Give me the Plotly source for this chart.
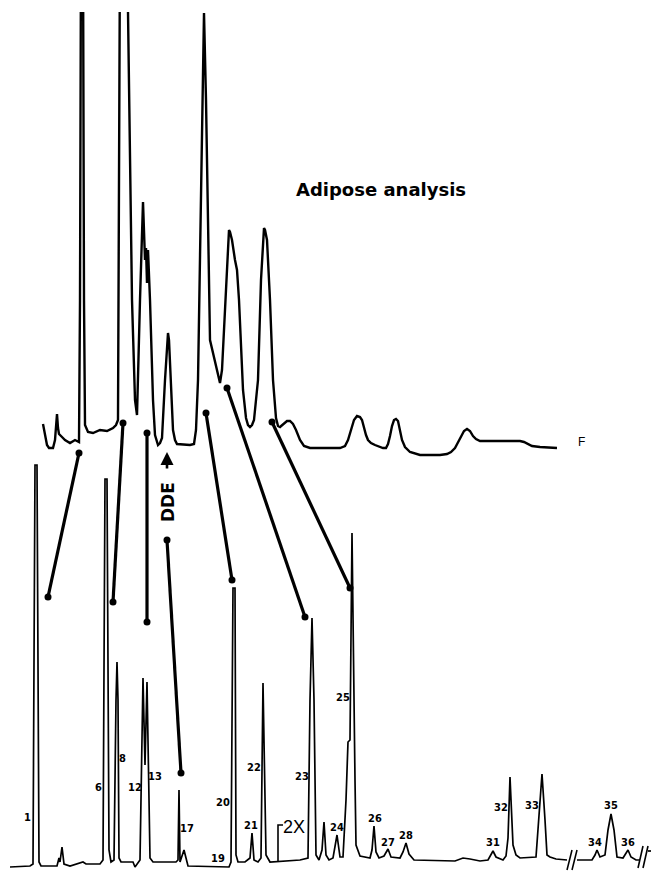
import plotly.graph_objects as go

# ---- Lower chromatogram (x = retention position, y = chart row, increasing downward) ----
lower_x = [10, 30, 33, 35, 37, 39, 41, 55, 57, 59, 60, 62, 64, 70, 83, 86, 100, 103, 105, 107,
           109, 111, 114, 116, 117, 118, 119, 121, 133, 135, 138, 140, 143, 145, 147, 150, 153,
           176, 178, 179, 180, 182, 184, 186, 188, 229, 231, 233, 235, 236, 238, 245, 250, 252,
           254, 258, 261, 263, 266, 270, 300, 308, 310, 312, 314, 316, 319, 322, 324, 326, 329,
           333, 337, 340, 343, 346, 348, 350, 352, 355, 356, 360, 370, 372, 374, 376, 379, 384,
           388, 391, 400, 403, 406, 409, 414, 455, 463, 470, 480, 488, 491, 493, 496, 503, 506,
           508, 510, 513, 516, 520, 536, 540, 542, 545, 547, 550, 556, 567,
           None,
           577, 592, 595, 597, 600, 605, 608, 611, 614, 617, 623, 626, 628, 631, 636, 640,
           None,
           648, 659]
lower_y = [867, 866, 864, 465, 465, 862, 866, 866, 866, 858, 862, 847, 864, 866, 862, 864, 864, 860, 479, 479,
           850, 862, 860, 700, 662, 700, 858, 862, 862, 867, 862, 860, 678, 765, 682, 858, 862,
           862, 860, 790, 862, 855, 850, 858, 866, 867, 862, 588, 588, 855, 862, 862, 858, 833,
           860, 862, 858, 683, 855, 862, 860, 858, 700, 618, 700, 855, 860, 850, 822, 855, 860,
           858, 835, 857, 857, 800, 742, 740, 533, 780, 845, 856, 858, 850, 826, 852, 858, 856,
           849, 857, 858, 852, 843, 854, 860, 861, 858, 859, 861, 860, 855, 851, 857, 860, 856,
           838, 777, 845, 855, 858, 857, 800, 774, 820, 855, 857, 859, 860,
           None,
           860, 860, 855, 850, 857, 855, 830, 814, 830, 857, 858, 853, 850, 857, 860, 860,
           None,
           851, 851]

# ---- Upper chromatogram "F" (the two largest peaks run off the top of the record) ----
upper_x = [43, 45, 47, 49, 53, 55, 56, 57, 58, 59, 62, 65, 70, 75, 79, 80, 81, 83, 84, 85, 88, 93,
           100, 107, 113, 116, 118, 120, 127, 132, 135, 137, 140, 143, 145, 146, 147, 148, 150,
           153, 155, 157, 158, 160, 162, 165, 167, 168, 169, 171, 173, 175, 177, 190, 194, 196,
           198, 204, 206, 210, 215, 219, 220, 222, 224, 226, 228, 229, 230, 232, 235, 237, 239,
           243, 246, 248, 250, 252, 254, 258, 261, 263, 264, 265, 267, 270, 273, 276, 278, 280,
           283, 287, 290, 293, 296, 300, 304, 310, 340, 345, 348, 351, 354, 357, 360, 362, 364,
           366, 368, 371, 375, 380, 383, 386, 388, 390, 392, 394, 396, 398, 400, 402, 405, 410,
           420, 440, 447, 451, 455, 458, 461, 464, 467, 470, 473, 476, 480, 520, 524, 528, 532,
           540, 557]
upper_y = [424, 436, 445, 448, 448, 440, 425, 414, 428, 434, 437, 440, 443, 440, 442, 300, -60, -60, 300, 425,
           432, 433, 430, 431, 428, 425, 420, -60, -60, 300, 400, 415, 300, 202, 260, 248, 283, 250,
           300, 400, 435, 443, 445, 443, 438, 380, 340, 333, 340, 380, 430, 440, 444, 445, 444,
           430, 380, 13, 100, 340, 360, 378, 383, 370, 330, 280, 240, 230, 232, 240, 260, 270,
           300, 390, 418, 425, 427, 425, 420, 380, 280, 236, 228, 230, 240, 300, 380, 418, 426,
           427, 424, 421, 421, 424, 430, 440, 446, 448, 448, 446, 440, 430, 420, 416, 417, 420,
           428, 435, 440, 443, 445, 447, 448, 448, 444, 436, 426, 420, 419, 421, 430, 440, 447,
           452, 455, 455, 454, 452, 448, 442, 436, 431, 429, 431, 436, 439, 441, 441, 442, 444,
           446, 447, 448]

# ---- Arrows linking the two traces (start x, start y, end x, end y) ----
arrow_x0 = [79, 123, 147, 167, 206, 227, 272]
arrow_y0 = [453, 423, 433, 540, 413, 388, 422]
arrow_x1 = [48, 113, 147, 181, 232, 305, 350]
arrow_y1 = [597, 602, 622, 773, 580, 617, 588]

# ---- Peak labels ----
peak_labels = ["1", "6", "8", "12", "13", "17", "19", "20", "21", "22", "23", "24", "25",
               "26", "27", "28", "31", "32", "33", "34", "35", "36"]
label_x = [27, 98, 122, 135, 155, 187, 218, 223, 251, 254, 302, 337, 343,
           375, 388, 406, 493, 501, 532, 595, 611, 628]
label_y = [817, 787, 758, 787, 776, 828, 858, 802, 825, 767, 776, 827, 697,
           818, 842, 835, 842, 807, 805, 842, 805, 842]

# attenuation marker and axis breaks
bracket_x = [278, 278, 283]
bracket_y = [862, 825, 825]
break_x = [567, 572, None, 572, 577, None, 638, 643, None, 643, 648]
break_y = [870, 850, None, 870, 850, None, 868, 846, None, 868, 846]

RECORD_TOP = 12   # first row of the scanned record (peaks are cut there)

# The page body has an 8 px margin: the figure is drawn inside it so that
# chart coordinates line up with the window pixels.
PAGE_MARGIN = 8
W, H = 659, 871

fig = go.Figure()
fig.add_trace(go.Scatter(x=lower_x, y=lower_y, mode="lines",
                         line=dict(color="black", width=1.7), connectgaps=False))
fig.add_trace(go.Scatter(x=upper_x, y=upper_y, mode="lines",
                         line=dict(color="black", width=2.4)))
fig.add_trace(go.Scatter(x=bracket_x, y=bracket_y, mode="lines",
                         line=dict(color="black", width=1.6)))
fig.add_trace(go.Scatter(x=break_x, y=break_y, mode="lines",
                         line=dict(color="black", width=1.6)))

for x0, y0, x1, y1 in zip(arrow_x0, arrow_y0, arrow_x1, arrow_y1):
    fig.add_trace(go.Scatter(x=[x0, x1], y=[y0, y1], mode="lines+markers",
                             line=dict(color="black", width=3.2),
                             marker=dict(color="black", size=7, symbol="circle")))

# cut the record at its top edge
fig.add_shape(type="rect", xref="paper", x0=0, x1=1, yref="y", y0=PAGE_MARGIN - 20, y1=RECORD_TOP,
              fillcolor="white", line=dict(width=0), layer="above")

# small DDE arrow
fig.add_annotation(x=167, y=452, ax=167, ay=470, xref="x", yref="y", axref="x", ayref="y",
                   showarrow=True, arrowhead=2, arrowsize=1, arrowwidth=2.6, arrowcolor="black", text="")

for t, x, y in zip(peak_labels, label_x, label_y):
    fig.add_annotation(x=x, y=y, text=f"<b>{t}</b>", showarrow=False,
                       font=dict(family="Liberation Sans Narrow, DejaVu Sans Condensed, Arial", size=11, color="black"))

fig.add_annotation(x=294, y=827, text="2X", showarrow=False,
                   font=dict(family="Liberation Sans, Arial", size=18, color="black"))
fig.add_annotation(x=168, y=502, text="<b>DDE</b>", showarrow=False, textangle=-90,
                   font=dict(family="DejaVu Sans, Arial", size=17, color="black"))
fig.add_annotation(x=381, y=189, text="<b>Adipose analysis</b>", showarrow=False,
                   font=dict(family="DejaVu Sans, Arial", size=18, color="black"))
fig.add_annotation(x=581, y=442, text="F", showarrow=False,
                   font=dict(family="Liberation Sans, Arial", size=12, color="black"))

fig.update_layout(width=W - PAGE_MARGIN, height=H - PAGE_MARGIN, margin=dict(l=0, r=0, t=0, b=0),
                  paper_bgcolor="white", plot_bgcolor="white", showlegend=False,
                  xaxis=dict(range=[PAGE_MARGIN, W], visible=False, fixedrange=True),
                  yaxis=dict(range=[H, PAGE_MARGIN], visible=False, fixedrange=True))

fig.write_html("out.html")
